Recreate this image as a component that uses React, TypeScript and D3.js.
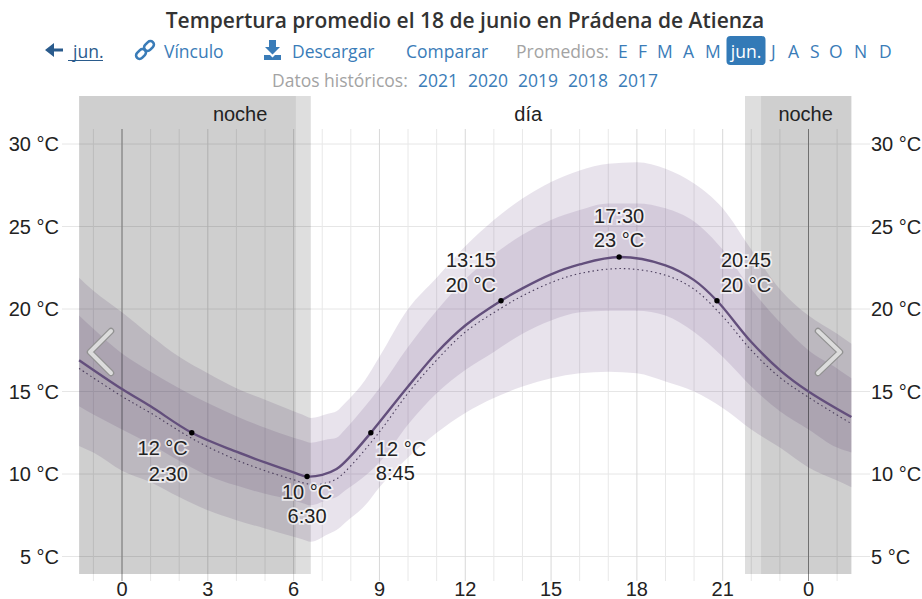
import React from "react";
import * as d3 from "d3";

const bandHours = [-1.5,-1,0,1,2,3,4,5,6,6.3,6.6,7.2,7.5,7.8,8.5,9,10,11,12,13,14,15,16,17,18,19,20,21,22,23,24,25,25.5];
const p90 = [21.9,21.1,19.8,18.4,17.1,16.1,15.2,14.5,13.8,13.6,13.4,13.65,13.8,14.3,15.7,17.1,20.0,21.9,23.8,25.4,26.7,27.7,28.4,28.8,28.9,28.5,27.6,26.1,23.6,21.2,19.6,18.5,17.9];
const p75 = [19.6,18.8,17.3,16.2,15.2,14.3,13.5,12.8,12.2,12.05,11.9,12.1,12.2,12.7,14.1,15.2,17.7,19.9,21.8,23.3,24.5,25.4,26,26.4,26.4,26.1,25.3,23.6,21.2,19.2,17.5,16.4,15.8];
const p25 = [14.1,13.6,12.7,11.8,10.8,9.9,9.3,8.8,8.4,8.25,8.1,8.45,8.6,9.0,9.9,10.7,13.0,14.9,16.3,17.4,18.5,19.3,19.8,19.9,19.9,19.6,18.6,17.1,15.3,13.8,12.7,11.6,11.3];
const p10 = [11.7,11.3,10.2,9.5,8.6,7.8,7.2,6.7,6.2,6.05,5.9,6.35,6.6,7.05,8.1,9.2,11,12.5,13.7,14.6,15.3,15.8,16.1,16.2,16.1,15.6,15.0,14,12.7,11.6,10.4,9.6,9.2];

const meanHours = [-1.5,0,1,2.44,4,5,6,6.47,7,7.5,8,8.7,10,11,12,13.25,14,15,16,17.38,19,20,20.8,22,23,24,25.5];
const meanTemp = [16.9,15.15,14.1,12.5,11.35,10.7,10.1,9.85,9.95,10.3,11.1,12.5,15.3,17.35,19.0,20.5,21.25,22.1,22.7,23.15,22.65,21.75,20.5,18.0,16.3,15.0,13.45];

const dotHours = [-1.5,0,1,2.5,4,5,6,6.5,7,7.5,8,9,10,11,12,13.25,14,15,16,17.5,19,20,21,22,23,24,25.5];
const dotTemp = [16.4,14.7,13.7,12.1,10.85,10.2,9.65,9.4,9.4,9.7,10.5,12.55,14.9,16.9,18.6,20.05,20.8,21.6,22.15,22.45,22.05,21.2,19.55,17.5,15.85,14.65,13.05];

const keyHours = [2.44,6.47,8.7,13.25,17.38,20.8];
const keyTemps = [12.5,9.85,12.5,20.5,23.15,20.5];
const keyLine1 = ["12 °C","10 °C","12 °C","13:15","17:30","20:45"];
const keyLine2 = ["2:30","6:30","8:45","20 °C","23 °C","20 °C"];
const keyAnchor = ["end","middle","start","end","middle","start"];
const keyDx = [-4,0,5,-5,0,4];
const keyDy1 = [22,23,23,-34,-34,-34];
const keyDy2 = [48,47,47,-9,-10,-9];

const yTicks = [5,10,15,20,25,30];
const hourTicks = [-1,0,1,2,3,4,5,6,7,8,9,10,11,12,13,14,15,16,17,18,19,20,21,22,23,24,25];
const nightSpans = [[-1.5,6.08],[22.34,25.5]];
const twilightSpans = [[6.08,6.6],[21.78,22.34]];
const dayLabels = [["noche",4.13],["día",14.2],["noche",23.9]] as [string,number][];

const title = "Tempertura promedio el 18 de junio en Prádena de Atienza";
const navLinks = [["Vínculo",164],["Descargar",292],["Comparar",406]] as [string,number][];
const months = [["E",618],["F",638],["M",657],["A",683],["M",705],["J",771],["A",788],["S",810],["O",829],["N",854],["D",879]] as [string,number][];
const years = [["2021",418],["2020",468],["2019",518],["2018",568],["2017",618]] as [string,number][];

const x = d3.scaleLinear().domain([0, 24]).range([122, 808.5]);
const y = d3.scaleLinear().domain([5, 30]).range([556.5, 144]);
const plotTop = 96, plotBottom = 574;

const bandArea = (hi: number[], lo: number[]) =>
  d3.area<number>().x((h) => x(h)).y0((_, i) => y(lo[i])).y1((_, i) => y(hi[i])).curve(d3.curveMonotoneX)(bandHours) as string;
const curve = (hs: number[], ts: number[]) =>
  d3.line<number>().x((h) => x(h)).y((_, i) => y(ts[i])).curve(d3.curveCatmullRom.alpha(0.5))(hs) as string;

const CHART = "'Liberation Sans', Arial, sans-serif";
const HEAD = "'Open Sans', 'Noto Sans', sans-serif";
const BLUE = "#3a7cb8";
const GRAY = "#a3a3a3";

export default function App() {
  return (
    <svg width={922} height={599} style={{ position: "absolute", left: 0, top: 0, background: "#fff" }}>
      <text x={465} y={27.5} textAnchor="middle" fontFamily={HEAD} fontWeight={600} fontSize={21} fill="#333">{title}</text>

      <g fontFamily={HEAD} fontSize={17.5}>
        <path d="M63 48.5H54V43L45 50L54 57V51.5H63Z" fill="#2a5b8c" />
        <text x={73} y={58} fill="#2a5b8c">jun.</text>
        <line x1={68} x2={103} y1={60.5} y2={60.5} stroke="#2a5b8c" strokeWidth={1.2} />
        <g fill="none" stroke={BLUE} strokeWidth={2.6}>
          <rect x={135.5} y={50.5} width={11} height={7} rx={3.5} transform="rotate(-45 141 54)" />
          <rect x={143.5} y={42.5} width={11} height={7} rx={3.5} transform="rotate(-45 149 46)" />
        </g>
        <path d="M269 40H276V47H280L272.5 54.5L265 47H269ZM264 55H270L272.5 57.5L275 55H281V60H264Z" fill={BLUE} />
        {navLinks.map(([t, px]) => (
          <text key={t} x={px} y={58} fill={BLUE}>{t}</text>
        ))}
        <text x={516} y={58} fill={GRAY}>Promedios:</text>
        {months.map(([t, px], i) => (
          <text key={i} x={px} y={58} fill={BLUE}>{t}</text>
        ))}
        <rect x={726.5} y={36} width={39} height={29} rx={4} fill="#337ab7" />
        <text x={746} y={58} textAnchor="middle" fill="#fff">jun.</text>
        <text x={272} y={87} fill={GRAY}>Datos históricos:</text>
        {years.map(([t, px]) => (
          <text key={t} x={px} y={87} fill={BLUE}>{t}</text>
        ))}
      </g>

      {yTicks.map((t) => (
        <line key={t} x1={62} x2={870} y1={y(t)} y2={y(t)} stroke="#e6e6e6" strokeWidth={1} />
      ))}
      {hourTicks.map((h) => (
        <line key={h} x1={x(h)} x2={x(h)} y1={129} y2={581}
          stroke={h === 0 || h === 24 ? "#eee" : h % 3 === 0 ? "#d8d8d8" : "#e8e8e8"} strokeWidth={1} />
      ))}

      <path d={bandArea(p90, p10)} fill="rgb(100,70,125)" fillOpacity={0.15} />
      <path d={bandArea(p75, p25)} fill="rgb(100,70,125)" fillOpacity={0.15} />

      {twilightSpans.map(([a, b], i) => (
        <rect key={i} x={x(a)} y={plotTop} width={x(b) - x(a)} height={plotBottom - plotTop} fill="#000" fillOpacity={0.13} />
      ))}
      {nightSpans.map(([a, b], i) => (
        <rect key={i} x={x(a)} y={plotTop} width={x(b) - x(a)} height={plotBottom - plotTop} fill="#000" fillOpacity={0.19} />
      ))}
      {[0, 24].map((h) => (
        <line key={h} x1={x(h)} x2={x(h)} y1={129} y2={581} stroke="#000" strokeOpacity={0.42} strokeWidth={1} />
      ))}

      <path d={curve(dotHours, dotTemp)} fill="none" stroke="#4a3d5c" strokeWidth={1.1} strokeDasharray="1.5 3" />
      <path d={curve(meanHours, meanTemp)} fill="none" stroke="#634f7c" strokeWidth={2.4} />

      {keyHours.map((h, i) => (
        <circle key={h} cx={x(h)} cy={y(keyTemps[i])} r={2.7} fill="#000" />
      ))}

      <g fontFamily={CHART} fontSize={20} fill="#222">
        {dayLabels.map(([t, h], i) => (
          <text key={i} x={x(h)} y={121} textAnchor="middle">{t}</text>
        ))}
        {yTicks.map((t) => (
          <g key={t}>
            <text x={59} y={y(t) + 7} textAnchor="end">{t} °C</text>
            <text x={871} y={y(t) + 7}>{t} °C</text>
          </g>
        ))}
        {[0, 3, 6, 9, 12, 15, 18, 21, 24].map((h) => (
          <text key={h} x={x(h)} y={596} textAnchor="middle">{h % 24}</text>
        ))}
        {keyHours.map((h, i) => (
          <g key={h} textAnchor={keyAnchor[i]} stroke="#fff" strokeOpacity={0.7} strokeWidth={3.5} style={{ paintOrder: "stroke" }}>
            <text x={x(h) + keyDx[i]} y={y(keyTemps[i]) + keyDy1[i]}>{keyLine1[i]}</text>
            <text x={x(h) + keyDx[i]} y={y(keyTemps[i]) + keyDy2[i]}>{keyLine2[i]}</text>
          </g>
        ))}
      </g>

      {["M111 331L90 352L111 373", "M818 331L840 352L818 373"].map((d) => (
        <g key={d} fill="none" strokeLinecap="round" strokeLinejoin="round">
          <path d={d} stroke="#929292" strokeWidth={6.5} />
          <path d={d} stroke="#dcdcdc" strokeWidth={4} />
        </g>
      ))}
    </svg>
  );
}
